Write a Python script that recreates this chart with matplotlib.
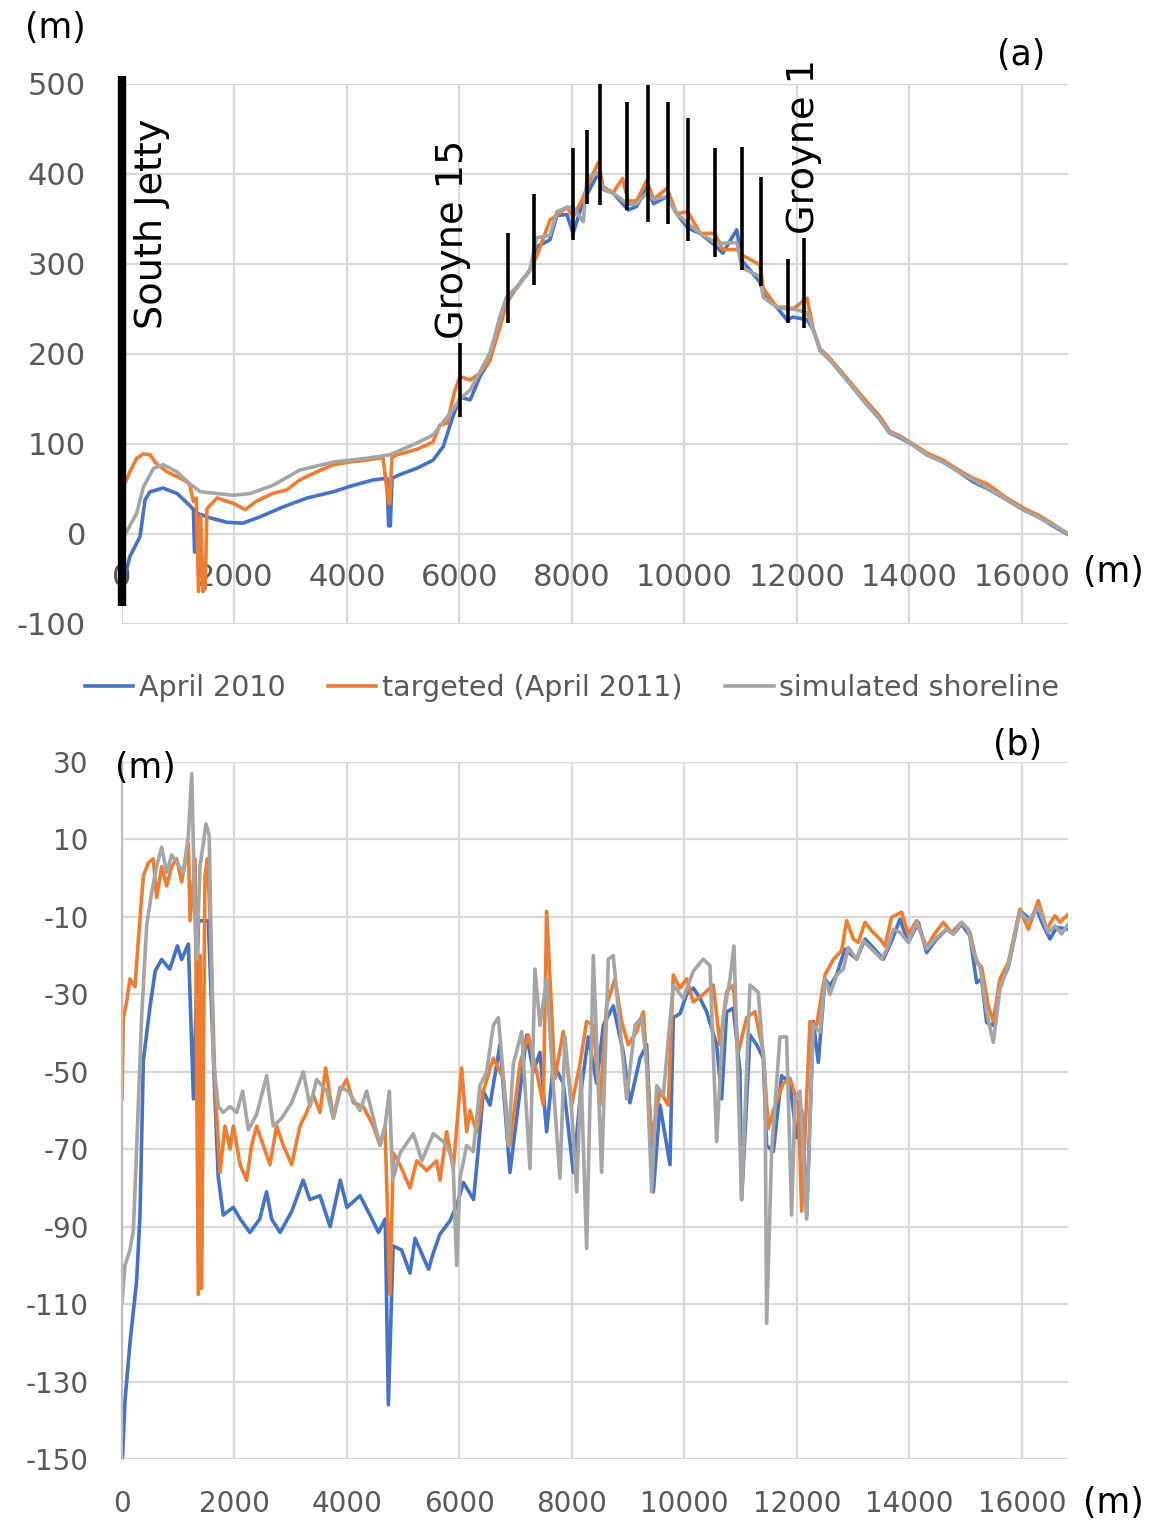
import matplotlib
matplotlib.use("Agg")
import matplotlib.pyplot as plt

plt.rcParams["axes.unicode_minus"] = False

# ---------------- data: panel (a) shoreline position (m) ----------------
a_blue_x = [0, 140, 320, 410, 500, 730, 980, 1200, 1270, 1290, 1310, 1340, 1560, 1870, 2150, 2450, 2860,
            3290, 3760, 4110, 4460, 4710, 4740, 4770, 4800, 4940, 5240, 5530, 5710, 5880, 6010, 6190, 6370,
            6540, 6720, 6840, 7020, 7250, 7370, 7610, 7730, 7910, 8020, 8200, 8470, 8550, 8730, 8900, 9000,
            9150, 9330, 9450, 9690, 9860, 10060, 10280, 10540, 10680, 10930, 11020, 11340, 11400, 11640,
            11820, 11930, 12180, 12290, 12410, 12590, 12890, 13170, 13480, 13650, 13830, 14060, 14310,
            14600, 14900, 15130, 15400, 15730, 16020, 16320, 16550, 16800]
a_blue_y = [-59, -25, -3, 38, 47, 51, 45, 32, 27, -20, -20, 23, 18, 13, 12, 19, 30,
            40, 47, 54, 60, 62, 9, 9, 62, 66, 73, 82, 97, 130, 152, 149, 176,
            193, 241, 263, 274, 293, 319, 327, 354, 355, 334, 370, 401, 383, 379, 367, 360,
            364, 386, 367, 375, 356, 340, 334, 321, 312, 338, 304, 280, 268, 252,
            238, 241, 238, 227, 204, 193, 171, 149, 127, 112, 107, 99, 88,
            80, 68, 58, 50, 38, 27, 18, 9, 0]

a_orange_x = [0, 140, 260, 380, 500, 600, 800, 1010, 1200, 1270, 1320, 1360, 1400, 1440, 1480, 1510,
              1690, 1980, 2190, 2380, 2680, 2930, 3160, 3460, 3760, 4050, 4340, 4640, 4740, 4760, 4800,
              4890, 5240, 5530, 5650, 5780, 5920, 6010, 6190, 6370, 6540, 6720, 6840, 7020, 7250, 7370,
              7610, 7730, 7910, 8020, 8200, 8270, 8470, 8550, 8730, 8900, 9000, 9150, 9330, 9450, 9690,
              9860, 10060, 10280, 10540, 10680, 10930, 11020, 11340, 11400, 11640, 11820, 11930, 12180,
              12290, 12410, 12590, 12890, 13170, 13480, 13650, 13830, 14060, 14310, 14600, 14900, 15130,
              15400, 15730, 16020, 16320, 16550, 16800]
a_orange_y = [49, 69, 84, 89, 88, 79, 69, 63, 56, 36, 40, -64, 20, -64, -60, 28,
              40, 34, 27, 36, 45, 49, 60, 69, 77, 80, 82, 85, 34, 34, 85,
              88, 94, 102, 121, 123, 160, 175, 171, 179, 193, 230, 257, 274, 293, 308,
              349, 354, 363, 352, 374, 386, 413, 386, 379, 395, 370, 370, 393, 372, 384,
              356, 358, 334, 334, 316, 316, 310, 299, 273, 252, 252, 250, 262,
              227, 206, 195, 173, 152, 130, 114, 109, 100, 90, 82, 70, 62,
              55, 40, 29, 20, 11, 1]

a_gray_x = [0, 260, 380, 560, 730, 980, 1200, 1390, 1980, 2280, 2680, 3160, 3760, 4340, 4760, 5240, 5530,
            5880, 6010, 6190, 6370, 6540, 6720, 6840, 7020, 7250, 7370, 7610, 7730, 7910, 8020, 8200,
            8270, 8470, 8550, 8730, 9000, 9150, 9330, 9450, 9690, 9860, 10060, 10280, 10540, 10680,
            10930, 11020, 11340, 11400, 11640, 11820, 11930, 12180, 12290, 12410, 12590, 12890, 13170,
            13480, 13650, 13830, 14060, 14310, 14600, 14900, 15130, 15400, 15730, 16020, 16320, 16550, 16800]
a_gray_y = [-7, 23, 52, 73, 77, 69, 56, 47, 43, 45, 54, 71, 80, 84, 88, 101, 110,
            138, 150, 160, 181, 201, 241, 263, 274, 293, 329, 332, 358, 363, 363, 347,
            397, 401, 383, 379, 366, 367, 379, 372, 375, 356, 345, 334, 324, 323,
            324, 296, 286, 263, 252, 250, 250, 246, 227, 204, 193, 171, 149,
            127, 112, 108, 99, 88, 80, 68, 60, 51, 38, 27, 18, 10, 1]

# groyne markers (position, lower end, upper end)
groyne_x = [6010, 6860, 7330, 8020, 8270, 8500, 8980, 9350, 9710, 10060, 10540, 11020, 11360, 11840, 12130]
groyne_lo = [130, 234, 277, 327, 367, 366, 360, 347, 344, 326, 308, 293, 275, 234, 229]
groyne_hi = [212, 334, 378, 429, 449, 502, 480, 499, 480, 462, 429, 430, 397, 306, 329]
jetty_x = 0
jetty_lo, jetty_hi = -80, 509

# ---------------- data: panel (b) ----------------
b_blue_x = [0, 12, 53, 142, 260, 320, 380, 500, 590, 705, 850, 985, 1060, 1180, 1270, 1360, 1535, 1650,
            1710, 1800, 1980, 2100, 2275, 2450, 2570, 2660, 2810, 3020, 3220, 3340, 3520, 3700, 3880,
            4000, 4230, 4410, 4560, 4680, 4735, 4820, 4970, 5120, 5210, 5450, 5530, 5650, 5830, 5950,
            6070, 6250, 6335, 6423, 6542, 6720, 6897, 7075, 7194, 7312, 7431, 7549, 7668, 7846, 8024,
            8142, 8290, 8438, 8557, 8734, 8912, 9031, 9209, 9327, 9446, 9564, 9742, 9801, 9920, 10038,
            10157, 10275, 10394, 10572, 10660, 10749, 10868, 10986, 11016, 11164, 11283, 11401, 11460,
            11579, 11727, 11875, 11994, 12083, 12172, 12290, 12379, 12497, 12586, 12705, 12853, 13061,
            13209, 13327, 13535, 13683, 13831, 13979, 14157, 14305, 14483, 14660, 14779, 14927, 15075,
            15194, 15283, 15372, 15490, 15609, 15757, 15964, 16142, 16260, 16379, 16498, 16616, 16823]
b_blue_y = [-150, -149, -135, -120, -104, -87, -47, -33, -24, -21, -23.5, -17.5, -21, -17, -57, -11, -11, -56,
            -77, -87, -85, -88, -91.5, -88, -81, -88, -91.5, -86, -78, -83, -82, -90, -78,
            -85, -82, -87, -91.5, -88, -136, -95, -96, -102, -93, -101, -97, -92, -88.5, -84.6,
            -78.6, -83, -70, -55, -58.6, -43, -76, -55, -40.5, -50, -45, -65.5, -48, -53, -76,
            -57, -41, -53, -38, -33, -45, -58, -46.5, -43, -81, -58.6, -74, -36, -35, -30,
            -28.4, -31, -34.5, -43, -57, -34.5, -33.6, -50, -83, -40.5, -43, -46.5, -69,
            -70.6, -51, -53, -67, -60, -87, -37, -47.6, -26, -27.8, -25, -18.3, -20.9,
            -15.7, -17.5, -20.9, -16.2, -10.6, -16.6, -11.4, -19.2, -15.7, -13.2, -14.4, -11.9, -14.9,
            -27, -26, -37.3, -38, -27.8, -23, -8.4, -10.6, -8, -12.3, -15.7, -12.7, -13.2]

b_orange_x = [0, 24, 83, 142, 231, 290, 380, 470, 557, 616, 705, 794, 883, 972, 1060, 1180, 1210, 1300,
              1357, 1390, 1416, 1475, 1520, 1565, 1653, 1742, 1831, 1920, 1980, 2100, 2216, 2305, 2394,
              2513, 2631, 2750, 2868, 3016, 3164, 3283, 3401, 3520, 3620, 3757, 3876, 3994, 4113, 4290,
              4468, 4587, 4676, 4764, 4824, 4942, 5120, 5240, 5416, 5594, 5653, 5771, 5890, 6038, 6127,
              6186, 6305, 6423, 6601, 6779, 6897, 7075, 7223, 7372, 7490, 7549, 7609, 7697, 7846, 7994,
              8142, 8260, 8379, 8497, 8616, 8764, 8883, 9001, 9150, 9268, 9416, 9564, 9712, 9801, 9920,
              10038, 10157, 10334, 10512, 10631, 10749, 10868, 10957, 11105, 11253, 11401, 11490, 11579,
              11757, 11875, 12024, 12083, 12231, 12349, 12498, 12646, 12794, 12883, 13001, 13090, 13209,
              13327, 13475, 13564, 13683, 13860, 13979, 14127, 14305, 14423, 14601, 14749, 14927, 15075,
              15194, 15283, 15401, 15490, 15609, 15757, 15964, 16112, 16290, 16438, 16586, 16675, 16823]
b_orange_y = [-57, -36, -32, -26, -28, -16, 0.6, 4, 5, -5, 3, -2, 3, 5, -1, 9, -11, 5,
              -107.5, -20, -106, 0.6, 5, -10, -53.6, -76, -64, -70, -64, -74, -78, -69, -64,
              -69, -74, -64, -69, -74, -64, -60.5, -56, -60.5, -49, -62, -55, -52, -58, -59,
              -64, -69, -64, -107.5, -71, -74, -80, -73, -75.5, -73, -78, -65.5, -75, -49, -65.5,
              -60, -65.5, -55, -46.5, -51.7, -69, -48, -40.5, -50, -58.6, -8.6, -26, -51.7, -39.6, -58.6,
              -48, -37, -38, -58.6, -32.7, -26, -37, -43, -39.6, -34.5, -67, -55, -58.6, -25, -28.4,
              -26, -32, -30, -27.6, -43, -29.3, -27.6, -45, -36, -34.5, -45, -64.6, -60,
              -53, -51.7, -58.6, -86, -37, -38, -25, -21, -18.7, -11, -15.7, -16.6, -11.4,
              -13.6, -15.7, -17.5, -10.1, -8.8, -14.4, -11, -17.9, -14.9, -11.4, -14, -11.4, -14,
              -21.8, -23, -33, -37, -26, -21.8, -8, -13.2, -5.8, -13.2, -9.7, -11.4, -9.3]

b_gray_x = [0, 53, 142, 202, 260, 350, 440, 527, 616, 705, 794, 883, 972, 1090, 1180, 1240, 1300, 1330,
            1387, 1493, 1550, 1624, 1713, 1800, 1920, 2040, 2145, 2246, 2394, 2572, 2690, 2838, 3016,
            3224, 3342, 3460, 3639, 3757, 3876, 4024, 4231, 4350, 4468, 4587, 4676, 4753, 4812, 4942,
            5180, 5330, 5535, 5713, 5831, 5890, 5950, 6009, 6127, 6246, 6364, 6483, 6601, 6690, 6779,
            6868, 6957, 7105, 7253, 7342, 7431, 7549, 7668, 7786, 7875, 7994, 8083, 8160, 8260, 8379,
            8527, 8646, 8734, 8883, 8972, 9120, 9238, 9327, 9416, 9505, 9623, 9801, 9979, 10157, 10334,
            10453, 10572, 10690, 10809, 10880, 11016, 11164, 11312, 11431, 11460, 11549, 11697, 11815,
            11905, 11964, 12053, 12172, 12290, 12409, 12497, 12586, 12705, 12823, 12912, 13061, 13179,
            13327, 13505, 13624, 13712, 13831, 13979, 14127, 14305, 14483, 14660, 14779, 14927, 15046,
            15135, 15253, 15372, 15490, 15609, 15757, 15964, 16112, 16290, 16468, 16586, 16705, 16823]
b_gray_y = [-109.6, -100, -96, -91, -70, -35.5, -12, -3.7, 3, 8, 1.5, 6, 4, 1.5, 11, 27, -12, -21,
            3, 14, 11, -47, -59, -60.5, -59, -60.5, -55, -65, -61, -51, -64, -62, -58,
            -50, -59, -52, -55, -62, -54, -55, -60, -55, -62, -69, -64, -55, -78, -71,
            -66, -73, -66, -68, -71, -75, -100, -77.5, -69, -70.6, -53.6, -50, -38, -36, -51,
            -69, -48, -39.6, -75, -23.5, -38, -26, -53.6, -77.5, -41, -60, -81, -50, -95.6, -20,
            -76, -20.9, -20, -43, -57, -38, -36, -48, -81, -53.6, -56, -27.6, -31, -24, -20.9,
            -22.6, -68, -36, -26, -17.5, -83, -27.6, -29.5, -52, -115, -70.6, -41, -41,
            -87, -57, -55, -88, -38, -39.8, -26, -30, -25, -23.5, -17.9, -20.9, -16.2,
            -18.3, -20.9, -17.5, -13.2, -14, -16.6, -11.4, -18.3, -15.3, -13.2, -14.4, -11.4, -13.2,
            -19.2, -23, -34.7, -42.4, -28.6, -22.6, -8.8, -11, -7.6, -14, -12.3, -14.4, -11.9]

series_labels = ["April 2010", "targeted (April 2011)", "simulated shoreline"]
series_colors = ["#4472C4", "#ED7D31", "#A5A5A5"]
x_ticks = list(range(0, 16001, 2000))
a_yticks = list(range(-100, 501, 100))
b_yticks = list(range(-150, 31, 20))

# ---------------- figure ----------------
W, H = 1153, 1524
fig = plt.figure(figsize=(W / 100, H / 100), dpi=100)
ax1 = fig.add_axes([122 / W, 1 - 624 / H, 946 / W, 540 / H])
ax2 = fig.add_axes([122 / W, 1 - 1459 / H, 946 / W, 697 / H])

XMAX = 16818
grid_kw = dict(color="#D9D9D9", lw=1.6)
tick_col = "#595959"
LW = 2.6

# panel (a)
lines = []
for xs, ys, c in [(a_blue_x, a_blue_y, series_colors[0]),
                  (a_orange_x, a_orange_y, series_colors[1]),
                  (a_gray_x, a_gray_y, series_colors[2])]:
    ln, = ax1.plot(xs, ys, color=c, lw=LW, solid_joinstyle="round")
    lines.append(ln)
ax1.vlines(groyne_x, groyne_lo, groyne_hi, color="black", lw=2.6, zorder=5)
ax1.vlines([jetty_x], [jetty_lo], [jetty_hi], color="black", lw=6, zorder=6, clip_on=False)
ax1.set_xlim(0, XMAX)
ax1.set_ylim(-100, 500)
ax1.set_xticks(x_ticks)
ax1.set_yticks(a_yticks)
ax1.grid(True, **grid_kw)
ax1.set_axisbelow(True)
for s in ["top", "right", "left"]:
    ax1.spines[s].set_visible(False)
ax1.spines["bottom"].set_position(("data", 0))
ax1.spines["bottom"].set_color("none")
ax1.tick_params(axis="both", length=0, labelsize=22, labelcolor=tick_col)
ax1.tick_params(axis="x", pad=21)
ax1.tick_params(axis="y", pad=26)

txt_kw = dict(rotation=90, ha="center", va="center", fontsize=27.5, color="black", zorder=7)
ax1.text(533, 345, "South Jetty", **txt_kw)
ax1.text(5876, 327, "Groyne 15", **txt_kw)
ax1.text(12124, 430, "Groyne 1", **txt_kw)

# panel (b)
for xs, ys, c in [(b_blue_x, b_blue_y, series_colors[0]),
                  (b_orange_x, b_orange_y, series_colors[1]),
                  (b_gray_x, b_gray_y, series_colors[2])]:
    ax2.plot(xs, ys, color=c, lw=LW, solid_joinstyle="round")
ax2.set_xlim(0, XMAX)
ax2.set_ylim(-150, 30)
ax2.set_xticks(x_ticks)
ax2.set_yticks(b_yticks)
ax2.grid(True, **grid_kw)
ax2.set_axisbelow(True)
for s in ["top", "right", "bottom"]:
    ax2.spines[s].set_visible(False)
ax2.spines["left"].set_color("#BFBFBF")
ax2.spines["left"].set_linewidth(1.6)
ax2.tick_params(axis="both", length=0, labelsize=20, labelcolor=tick_col)
ax2.tick_params(axis="x", pad=22)
ax2.tick_params(axis="y", pad=24)

# unit / panel labels
lab_kw = dict(ha="center", va="center", fontsize=25, color="black")
fig.text(55 / W, 1 - 28 / H, "(m)", **lab_kw)
fig.text(1021 / W, 1 - 55 / H, "(a)", **lab_kw)
fig.text(1113 / W, 1 - 572 / H, "(m)", **lab_kw)
fig.text(1018 / W, 1 - 745 / H, "(b)", **lab_kw)
fig.text(145 / W, 1 - 768 / H, "(m)", **lab_kw)
fig.text(1113 / W, 1 - 1503 / H, "(m)", **lab_kw)

fig.legend(lines, series_labels, loc="center", bbox_to_anchor=(572 / W, 1 - 688 / H), ncol=3,
           frameon=False, fontsize=20.5, handlelength=1.7, handletextpad=0.2, columnspacing=1.5,
           labelcolor=tick_col)

fig.savefig("out.png", dpi=100)
